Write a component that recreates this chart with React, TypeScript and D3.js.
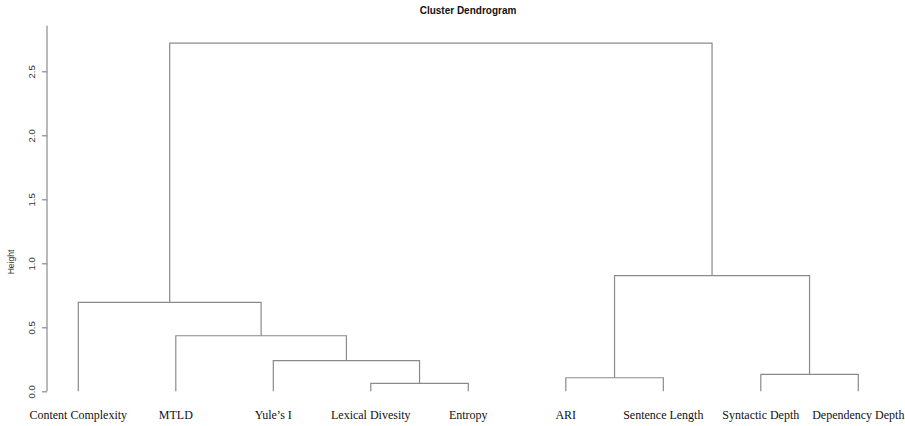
import { useEffect, useRef } from 'react';
import * as d3 from 'd3';

const leaves = [
  'Content Complexity',
  'MTLD',
  "Yule\u2019s I",
  'Lexical Divesity',
  'Entropy',
  'ARI',
  'Sentence Length',
  'Syntactic Depth',
  'Dependency Depth',
];

// R-style merge table: negative = leaf (1-based), positive = earlier merge
const mergeLeft = [-4, -6, -8, -3, -2, -1, 2, 6];
const mergeRight = [-5, -7, -9, 1, 4, 5, 3, 7];
const mergeHeight = [0.0625, 0.106, 0.133, 0.239, 0.434, 0.695, 0.903, 2.72];

const yTicks = [0, 0.5, 1, 1.5, 2, 2.5];

const App = () => {
  const svgRef = useRef<SVGSVGElement>(null);
  const width = 905;
  const height = 426;

  useEffect(() => {
    if (!svgRef.current) return;
    d3.select(svgRef.current).selectAll('*').remove();

    const svg = d3.select(svgRef.current)
      .attr('width', width)
      .attr('height', height);

    const lineColor = '#8a8a8a';

    const xScale = d3.scalePoint<string>()
      .domain(leaves)
      .range([78.3, 858.3]);

    const yScale = d3.scaleLinear()
      .domain([0, 2.5])
      .range([391.3, 71.3]);

    // Title
    svg.append('text')
      .attr('x', 468)
      .attr('y', 14)
      .attr('text-anchor', 'middle')
      .attr('font-family', '"Liberation Sans", Arial, sans-serif')
      .attr('font-size', '10px')
      .attr('font-weight', 'bold')
      .attr('fill', '#111')
      .text('Cluster Dendrogram');

    // Y axis
    const yAxis = svg.append('g')
      .attr('transform', 'translate(47,0)')
      .call(d3.axisLeft(yScale)
        .tickValues(yTicks)
        .tickSize(5)
        .tickFormat(d3.format('.1f')));

    yAxis.select('.domain').remove();
    yAxis.append('line')
      .attr('x1', 0)
      .attr('x2', 0)
      .attr('y1', yScale(0))
      .attr('y2', yScale(2.855))
      .attr('stroke', lineColor)
      .attr('stroke-width', 1.2);

    yAxis.selectAll('.tick line')
      .attr('stroke', lineColor)
      .attr('stroke-width', 1.2);

    yAxis.selectAll('.tick text')
      .attr('transform', 'rotate(-90)')
      .attr('x', 0)
      .attr('y', -12)
      .attr('dy', 0)
      .attr('text-anchor', 'middle')
      .attr('font-family', '"Liberation Sans", Arial, sans-serif')
      .attr('font-size', '9.5px')
      .attr('fill', '#333');

    svg.append('text')
      .attr('transform', 'rotate(-90)')
      .attr('x', -262)
      .attr('y', 14)
      .attr('text-anchor', 'middle')
      .attr('font-family', '"Liberation Sans", Arial, sans-serif')
      .attr('font-size', '8.5px')
      .attr('fill', '#333')
      .text('Height');

    // Compute node positions
    const nodeX: number[] = [];
    const nodeY: number[] = [];
    const pos = (ref: number) => {
      if (ref < 0) return { x: xScale(leaves[-ref - 1]) as number, y: yScale(0) };
      return { x: nodeX[ref - 1], y: nodeY[ref - 1] };
    };

    const g = svg.append('g')
      .attr('fill', 'none')
      .attr('stroke', lineColor)
      .attr('stroke-width', 1.2);

    mergeHeight.forEach((h, i) => {
      const a = pos(mergeLeft[i]);
      const b = pos(mergeRight[i]);
      const y = yScale(h);
      nodeX.push((a.x + b.x) / 2);
      nodeY.push(y);
      g.append('path')
        .attr('d', `M${a.x},${a.y}V${y}H${b.x}V${b.y}`);
    });

    // Leaf labels
    svg.append('g')
      .selectAll('text')
      .data(leaves)
      .join('text')
      .attr('x', d => xScale(d) as number)
      .attr('y', 419)
      .attr('text-anchor', 'middle')
      .attr('font-family', '"Liberation Serif", "Times New Roman", serif')
      .attr('font-size', '12px')
      .attr('fill', '#111')
      .text(d => d);
  }, []);

  return (
    <svg
      ref={svgRef}
      style={{ position: 'absolute', left: 0, top: 0, background: '#fff' }}
    />
  );
};

export default App;
